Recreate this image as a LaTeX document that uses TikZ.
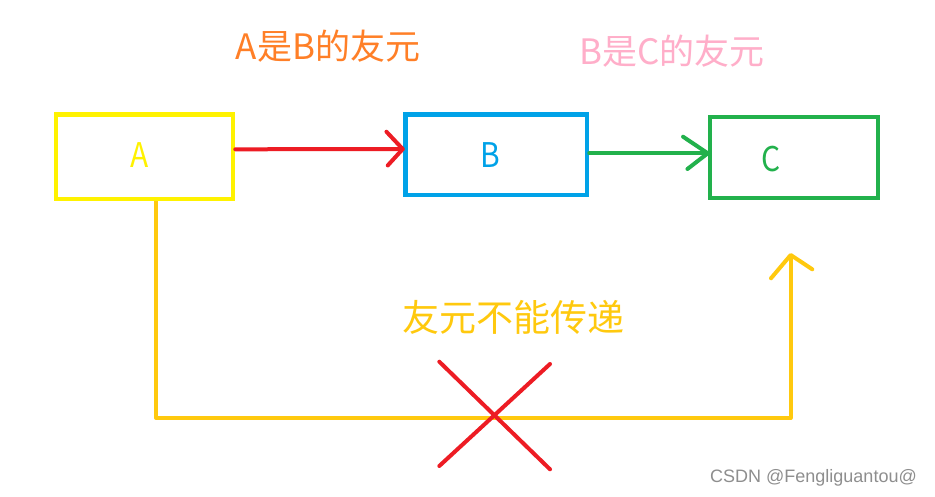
\documentclass[tikz,border=0pt]{standalone}
\usepackage{fontspec}
\setmainfont{Noto Sans CJK SC}
\newfontfamily\wmfont{Liberation Sans}
\definecolor{pyellow}{HTML}{FFF200}
\definecolor{pblue}{HTML}{00A2E8}
\definecolor{pgreen}{HTML}{22B14C}
\definecolor{pred}{HTML}{ED1C24}
\definecolor{porange}{HTML}{FF7F27}
\definecolor{ppink}{HTML}{FFAEC9}
\definecolor{pgold}{HTML}{FFC90E}
\definecolor{wmgray}{HTML}{8E8E8E}
\begin{document}
\begin{tikzpicture}[x=1pt,y=-1pt,
  boxst/.style={draw,line width=4.5pt,inner sep=0pt,minimum width=#1},
  conn/.style={line width=4pt,line cap=round,line join=round},
  boxlabel/.style={font=\fontsize{34}{40}\selectfont,inner sep=0pt,xscale=0.88},
  title/.style={font=\fontsize{35}{42}\selectfont,inner sep=0pt}]
\useasboundingbox[fill=white] (0,0) rectangle (935,497);

% boxes
\node[boxst=177.3pt,draw=pyellow,minimum height=84.5pt] (A) at (144.4,156.7) {};
\node[boxst=181.5pt,draw=pblue,minimum height=80.5pt] (B) at (496.25,154.75) {};
\node[boxst=168pt,draw=pgreen,minimum height=81pt] (C) at (794,157.5) {};

% box texts
\node[boxlabel,text=pyellow] (tA) at (139.5,155.5) {A};
\node[boxlabel,text=pblue] (tB) at (490,155) {B};
\node[boxlabel,text=pgreen] (tC) at (771,159) {C};

% titles
\node[title,text=porange] (t1) at (328,46) {A是B的友元};
\node[title,text=ppink] (t2) at (672,51) {B是C的友元};
\node[font=\fontsize{37}{44}\selectfont,inner sep=0pt,text=pgold] (t3) at (513,317) {友元不能传递};

% red arrow A -> B
\coordinate (rs) at ([yshift=7.4pt]A.east);
\coordinate (rt) at ([yshift=5.7pt,xshift=-0.5pt]B.west);
\draw[conn,draw=pred] (rs) -- (rt);
\draw[conn,draw=pred] (rt) ++(-16.3,-17.3) -- (rt) -- ++(-15,16.4);

% green arrow B -> C
\coordinate (gs) at ([yshift=1.45pt]B.east);
\coordinate (gt) at ([yshift=4.2pt]C.west);
\draw[conn,draw=pgreen] (gs) -- (gt);
\draw[conn,draw=pgreen] (gt) ++(-24.7,-16.6) -- (gt) -- ++(-20.3,15.7);

% yellow (gold) connector A -> towards C
\coordinate (ys) at ([xshift=11.6pt]A.south);
\coordinate (ybot) at (156,418);
\coordinate (ytip) at (790.7,255);
\draw[conn,line cap=butt,draw=pgold] (ys) -- (ys |- ybot) -| (ytip);
\draw[conn,draw=pgold] (ytip) ++(-19.7,23.3) -- (ytip) -- ++(21.6,14.3);

% red cross
\coordinate (x1) at (439.3,361.7);
\coordinate (x2) at (550,469.3);
\coordinate (x3) at (550,364);
\coordinate (x4) at (439.3,466);
\draw[conn,draw=pred] (x1) -- (x2);
\draw[conn,draw=pred] (x3) -- (x4);

% watermark
\node[anchor=west,inner sep=0pt,text=wmgray,font=\wmfont\fontsize{18}{22}\selectfont] (wm) at (710,478) {CSDN @Fengliguantou@};
\end{tikzpicture}
\end{document}
